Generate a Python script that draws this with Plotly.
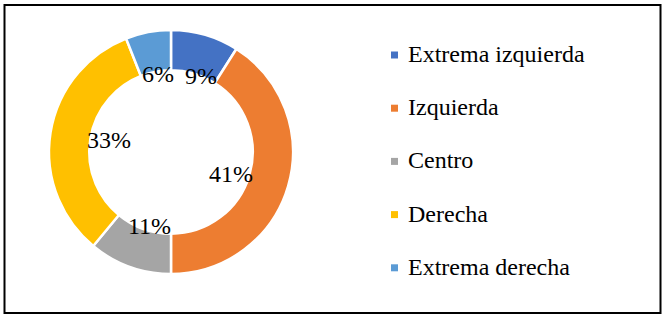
import math
import plotly.graph_objects as go

categories = ["Extrema izquierda", "Izquierda", "Centro", "Derecha", "Extrema derecha"]
values = [9, 41, 11, 33, 6]
colors = ["#4472C4", "#ED7D31", "#A5A5A5", "#FFC000", "#5B9BD5"]

W, H = 665, 320
FONT = "Liberation Serif, Times New Roman, serif"

# donut geometry in pixels
cx, cy, R = 171, 152, 122
hole = 0.67

fig = go.Figure(go.Pie(
    labels=categories, values=values, sort=False, direction="clockwise",
    rotation=0, hole=hole, textinfo="none", showlegend=False,
    marker=dict(colors=colors, line=dict(color="white", width=2.5)),
    domain=dict(x=[(cx - R) / W, (cx + R) / W], y=[(H - cy - R) / H, (H - cy + R) / H]),
))

# percentage labels placed just inside the hole
total = sum(values)
cum = 0
label_size = 24
labels = []
for v in values:
    mid = (cum + v / 2) / total * 2 * math.pi
    cum += v
    dx, dy = math.sin(mid), -math.cos(mid)
    txt = f"{round(v / total * 100)}%"
    w = 0.7 * label_size * len(txt)
    h = 18
    rr = 88
    px = rr * dx - dx * w / 2
    py = rr * dy - dy * h / 2
    labels.append([txt, px, py, 0.62 * label_size * len(txt)])

# simple overlap avoidance: push the right-hand label of an overlapping pair to the right
min_gap = 14
for i in range(len(labels)):
    for j in range(len(labels)):
        if i == j:
            continue
        a, b = labels[i], labels[j]
        if abs(a[2] - b[2]) < 18 and a[1] < b[1]:
            gap = (b[1] - b[3] / 2) - (a[1] + a[3] / 2)
            if gap < min_gap:
                b[1] += min_gap - gap

for txt, px, py, _ in labels:
    fig.add_annotation(x=(cx + px) / W, y=(H - (cy + py)) / H, xref="paper", yref="paper",
                       text=txt, showarrow=False, xanchor="center", yanchor="middle",
                       font=dict(family=FONT, size=label_size, color="black"))

# manual legend
leg_y0, leg_step = 54, 53.2
for i, (name, col) in enumerate(zip(categories, colors)):
    yy = leg_y0 + i * leg_step
    fig.add_shape(type="rect", xref="paper", yref="paper",
                  x0=391 / W, x1=398 / W, y0=(H - yy - 1 - 3.5) / H, y1=(H - yy - 1 + 3.5) / H,
                  fillcolor=col, line=dict(width=0))
    fig.add_annotation(x=406 / W, y=(H - yy) / H, xref="paper", yref="paper",
                       text=name, showarrow=False, xanchor="left", yanchor="middle",
                       font=dict(family=FONT, size=24, color="black"))

# outer border
fig.add_shape(type="rect", xref="paper", yref="paper",
              x0=4.5 / W, x1=660.5 / W, y0=(H - 313) / H, y1=(H - 5) / H,
              line=dict(color="black", width=2), fillcolor="rgba(0,0,0,0)")

fig.update_layout(width=W, height=H, margin=dict(l=0, r=0, t=0, b=0),
                  paper_bgcolor="white", plot_bgcolor="white", showlegend=False)
fig.write_html("out.html", config={"displayModeBar": False},
               post_script="document.body.style.margin='0';")
